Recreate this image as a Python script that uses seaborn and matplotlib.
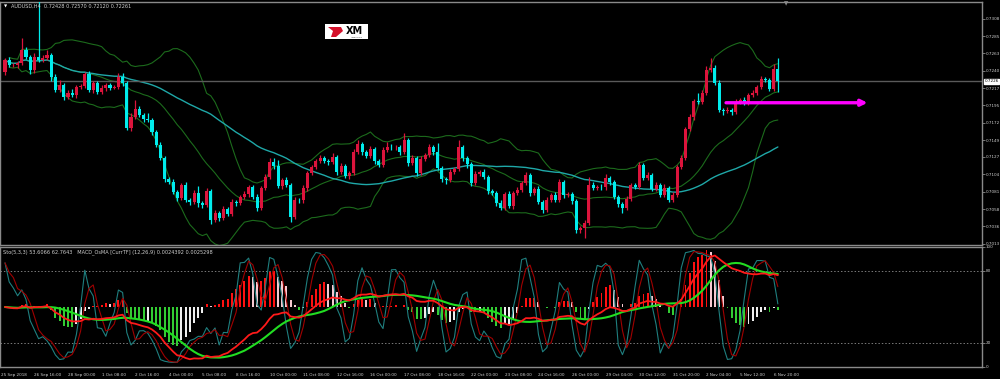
import numpy as np
import pandas as pd
import matplotlib
matplotlib.use("Agg")
import matplotlib.pyplot as plt
import matplotlib.transforms as mtransforms
from matplotlib.patches import Rectangle, Polygon
from matplotlib import font_manager
import seaborn as sns

# ---------------- data ----------------
first_open = 0.72384
closes = [
    0.72541, 0.72476, 0.72476, 0.72502, 0.72673, 0.72581, 0.72410, 0.72581, 0.72541, 0.72568,
    0.72607, 0.72318, 0.72147, 0.72213, 0.72055, 0.72108, 0.72082, 0.72187, 0.72195, 0.72357,
    0.72147, 0.72239, 0.72121, 0.72174, 0.72213, 0.72174, 0.72187, 0.72318, 0.72239, 0.71648,
    0.71793, 0.71898, 0.71819, 0.71767, 0.71753, 0.71596, 0.71425, 0.71255, 0.70979, 0.70939,
    0.70808, 0.70729, 0.70900, 0.70703, 0.70677, 0.70795, 0.70664, 0.70637, 0.70821, 0.70440,
    0.70532, 0.70467, 0.70585, 0.70519, 0.70677, 0.70664, 0.70742, 0.70782, 0.70874, 0.70742,
    0.70598, 0.70861, 0.71005, 0.71202, 0.71150, 0.70887, 0.70966, 0.70900, 0.70480, 0.70703,
    0.70700, 0.70861, 0.71058, 0.71136, 0.71215, 0.71255, 0.71215, 0.71202, 0.71268, 0.71071,
    0.71150, 0.71018, 0.71058, 0.71333, 0.71438, 0.71333, 0.71281, 0.71373, 0.71215, 0.71163,
    0.71360, 0.71399, 0.71395, 0.71399, 0.71333, 0.71491, 0.71189, 0.71255, 0.71058, 0.71241,
    0.71294, 0.71399, 0.71333, 0.71123, 0.70979, 0.70966, 0.71071, 0.71110, 0.71399, 0.71255,
    0.71176, 0.70926, 0.71045, 0.71071, 0.71005, 0.70821, 0.70795, 0.70664, 0.70598, 0.70782,
    0.70624, 0.70795, 0.70834, 0.70926, 0.71031, 0.70795, 0.70847, 0.70677, 0.70572, 0.70703,
    0.70769, 0.70703, 0.70939, 0.70769, 0.70782, 0.70690, 0.70309, 0.70335, 0.70401, 0.70900,
    0.70861, 0.70874, 0.70870, 0.70992, 0.70939, 0.70742, 0.70651, 0.70598, 0.70716, 0.70900,
    0.70874, 0.71163, 0.70992, 0.71031, 0.70847, 0.70900, 0.70769, 0.70861, 0.70703, 0.70769,
    0.71136, 0.71255, 0.71635, 0.71793, 0.72003, 0.71990, 0.72108, 0.72410, 0.72436, 0.72239,
    0.71885, 0.71872, 0.71880, 0.71858, 0.71990, 0.72016, 0.71977, 0.72082, 0.72108, 0.72187,
    0.72292, 0.72279, 0.72160, 0.72428, 0.72261,
]
wick_up_pips = [
    3, 4, 3, 2, 16, 4, 3, 5, 75, 4, 7, 3, 4, 6, 3, 4, 5, 3, 3, 3,
    4, 3, 3, 4, 3, 3, 3, 5, 5, 3, 5, 12, 4, 3, 8, 3, 3, 4, 3, 3,
    4, 3, 3, 4, 3, 4, 9, 3, 4, 3, 4, 3, 4, 3, 4, 3, 3, 4, 3, 3,
    4, 3, 4, 5, 5, 8, 3, 4, 3, 4, 3, 4, 3, 3, 3, 4, 3, 3, 5, 3,
    4, 3, 3, 4, 5, 3, 3, 4, 3, 3, 4, 6, 4, 3, 3, 9, 3, 4, 3, 4,
    3, 4, 3, 12, 3, 3, 4, 3, 9, 3, 3, 3, 4, 3, 4, 3, 3, 3, 4, 3,
    4, 3, 4, 3, 4, 3, 3, 4, 3, 4, 3, 4, 4, 3, 3, 3, 3, 3, 4, 10,
    4, 3, 4, 5, 3, 3, 3, 3, 4, 3, 3, 4, 3, 4, 3, 4, 3, 5, 3, 4,
    3, 4, 3, 4, 3, 10, 4, 5, 13, 4, 4, 3, 4, 3, 4, 3, 4, 3, 4, 3,
    4, 3, 3, 6, 14,
]
wick_dn_pips = [
    4, 3, 2, 4, 3, 3, 5, 4, 3, 3, 3, 5, 3, 3, 4, 3, 3, 4, 3, 2,
    3, 4, 3, 3, 4, 3, 2, 3, 4, 3, 4, 3, 3, 4, 3, 4, 3, 3, 4, 3,
    3, 4, 3, 3, 4, 3, 5, 4, 3, 5, 3, 4, 3, 3, 3, 4, 3, 3, 4, 3,
    4, 3, 3, 3, 4, 3, 4, 3, 7, 3, 3, 3, 4, 3, 3, 3, 3, 4, 3, 4,
    3, 3, 4, 3, 3, 4, 3, 3, 4, 3, 3, 3, 3, 3, 4, 3, 4, 3, 4, 3,
    3, 3, 4, 3, 4, 5, 3, 3, 3, 4, 5, 4, 3, 3, 3, 4, 3, 4, 3, 3,
    3, 4, 3, 3, 3, 4, 3, 3, 4, 3, 3, 3, 3, 4, 3, 4, 4, 4, 13, 3,
    3, 3, 3, 3, 4, 3, 4, 6, 3, 3, 3, 3, 3, 3, 3, 3, 3, 3, 3, 3,
    3, 3, 3, 3, 4, 3, 3, 3, 3, 3, 3, 5, 3, 4, 3, 3, 3, 3, 3, 3,
    3, 3, 3, 3, 14,
]
time_labels = ["25 Sep 2018", "26 Sep 16:00", "28 Sep 00:00", "1 Oct 08:00", "2 Oct 16:00",
               "4 Oct 00:00", "5 Oct 08:00", "8 Oct 16:00", "10 Oct 00:00", "11 Oct 08:00",
               "12 Oct 16:00", "16 Oct 00:00", "17 Oct 08:00", "18 Oct 16:00", "22 Oct 00:00",
               "23 Oct 08:00", "24 Oct 16:00", "26 Oct 00:00", "29 Oct 04:00", "30 Oct 12:00",
               "31 Oct 20:00", "2 Nov 04:00", "5 Nov 12:00", "6 Nov 20:00"]
price_ticks = [0.7308, 0.7285, 0.7263, 0.7240, 0.7217, 0.7195, 0.7172, 0.7149,
               0.7127, 0.7104, 0.7081, 0.7058, 0.7036, 0.7013]
osc_ticks = [100, 80, 20, 0]
osc_levels = [80, 20]
bid_label = "0.7226"
arrow_level = 0.71980
header_text = "AUDUSD,H4  0.72428 0.72570 0.72120 0.72261"
osc_header = "Sto(5,3,3) 53.6066 62.7643   MACD_OsMA [CurrTF] (12,26,9) 0.0024392 0.0025298"

# ---------------- derived series ----------------
close = np.array(closes)
opn = np.r_[first_open, close[:-1]]
high = np.maximum(opn, close) + np.array(wick_up_pips) * 1e-4
low = np.minimum(opn, close) - np.array(wick_dn_pips) * 1e-4
n = len(close)
idx = np.arange(n)
s = pd.Series(close)

bb_mid = s.rolling(20, min_periods=2).mean()
bb_sd = s.rolling(20, min_periods=2).std(ddof=0)
bb_up = bb_mid + 2 * bb_sd
bb_lo = bb_mid - 2 * bb_sd
ma50 = s.rolling(50, min_periods=1).mean()

hh = pd.Series(high).rolling(5, min_periods=1).max()
ll = pd.Series(low).rolling(5, min_periods=1).min()
num = (s - ll).rolling(3, min_periods=1).sum()
den = (hh - ll).rolling(3, min_periods=1).sum()
sto_main = 100 * num / den
sto_sig = sto_main.rolling(3, min_periods=1).mean()

macd = s.ewm(span=12, adjust=False).mean() - s.ewm(span=26, adjust=False).mean()
macd_sig = macd.rolling(9, min_periods=1).mean()
osma = macd - macd_sig
LINE_K = 11000.0
HIST_K = 26000.0

# ---------------- style ----------------
sns.set_theme(style="dark")
installed = {f.name for f in font_manager.fontManager.ttflist}
narrow = "Liberation Sans Narrow" if "Liberation Sans Narrow" in installed else (
    "DejaVu Sans Condensed" if "DejaVu Sans Condensed" in installed else "DejaVu Sans")
plt.rcParams["font.family"] = [narrow, "DejaVu Sans"]
is_narrow = narrow != "DejaVu Sans"
FS_Y = 3.8 if is_narrow else 3.0
FS_X = 3.7 if is_narrow else 3.0
FS_H = 4.2 if is_narrow else 3.6
TXT = "#cfcfcf"
GRAY = "#8a8a8a"
BULL = "#dc143c"
BEAR = "#00ecec"

fig = plt.figure(figsize=(10, 3.79), dpi=100, facecolor="black")
ax = fig.add_axes([0.0, 1 - 245 / 379, 0.982, 243 / 379])
ax2 = fig.add_axes([0.0, 1 - 367 / 379, 0.982, 120 / 379])
for a in (ax, ax2):
    a.set_facecolor("black")
    a.grid(False)
    for sp in a.spines.values():
        sp.set_color(GRAY)
        sp.set_linewidth(1.0)

x_left, x_right = -1.19, 232.6

# ---- price panel ----
for ser in (bb_up, bb_mid, bb_lo):
    sns.lineplot(x=idx, y=ser.values, ax=ax, color="#1c6b1c", linewidth=0.8, legend=False)
sns.lineplot(x=idx, y=ma50.values, ax=ax, color="#1fa8a8", linewidth=1.0, legend=False)

bull = close >= opn
colors = np.where(bull, BULL, BEAR)
ax.vlines(idx, low, high, colors=colors, linewidth=0.9, zorder=3)
body_h = np.maximum(np.abs(close - opn), 0.00003)
ax.bar(idx, body_h, bottom=np.minimum(opn, close), width=0.72, color=colors,
       linewidth=0, zorder=4)

ax.axhline(close[-1], color="#5a5a5a", linewidth=1.0, zorder=2)
ax.annotate("", xy=(206, arrow_level), xytext=(171, arrow_level),
            arrowprops=dict(arrowstyle="-|>", color="#ff00ff", lw=2.4, mutation_scale=9),
            zorder=6)

ax.set_xlim(x_left, x_right)
ax.set_ylim(0.70112, 0.73303)
ax.set_xticks([])
ax.yaxis.tick_right()
ax.set_yticks(price_ticks)
ax.set_yticklabels([f"{v:.4f}" for v in price_ticks])
ax.tick_params(axis="y", colors=GRAY, labelcolor=TXT, labelsize=FS_Y, length=2, width=0.6, pad=0.6)
ax.set_xlabel("")
ax.set_ylabel("")

trans = mtransforms.blended_transform_factory(ax.transAxes, ax.transData)
ax.text(1.0025, close[-1], bid_label, transform=trans, fontsize=FS_Y, color="black",
        va="center", ha="left", clip_on=False,
        bbox=dict(boxstyle="square,pad=0.1", fc="white", ec="white"))

# ---- oscillator panel ----
prev = osma.shift(1).fillna(0).values
hcols = []
for v, p in zip(osma.values, prev):
    if v >= 0:
        hcols.append("#ff1010" if v >= p else "#f6c8d0")
    else:
        hcols.append("#33cc33" if v < p else "#eeeeee")
ax2.bar(idx, osma.values * HIST_K, bottom=50, width=0.45, color=hcols, linewidth=0, zorder=2)

sns.lineplot(x=idx, y=sto_main.values, ax=ax2, color="#1f7f7f", linewidth=0.8, legend=False)
sns.lineplot(x=idx, y=sto_sig.values, ax=ax2, color="#a00000", linewidth=0.8, legend=False)
sns.lineplot(x=idx, y=macd_sig.values * LINE_K + 50, ax=ax2, color="#22dd22", linewidth=1.5, legend=False)
sns.lineplot(x=idx, y=macd.values * LINE_K + 50, ax=ax2, color="#ff1a1a", linewidth=1.3, legend=False)
for lv in osc_levels:
    ax2.axhline(lv, color="#7a7a7a", linewidth=0.7, linestyle=(0, (1.5, 2)), zorder=1)

ax2.set_xlim(x_left, x_right)
ax2.set_ylim(0, 100)
ax2.yaxis.tick_right()
ax2.set_yticks(osc_ticks)
ax2.set_yticklabels([str(v) for v in osc_ticks])
ax2.tick_params(axis="y", colors=GRAY, labelcolor=TXT, labelsize=FS_Y, length=2, width=0.6, pad=0.6)
tick_pos = [8 * k - 1 for k in range(len(time_labels))]
ax2.set_xticks(tick_pos)
ax2.set_xticklabels(time_labels, ha="left")
ax2.tick_params(axis="x", colors=GRAY, labelcolor=TXT, labelsize=FS_X, length=3, width=0.6, pad=1.2)
ax2.set_xlabel("")
ax2.set_ylabel("")

# ---- texts and decorations ----
fig.text(0.004, 1 - 6 / 379, "\u25bc", color="white", fontsize=3.0, va="center", ha="left",
         family="DejaVu Sans")
fig.text(0.011, 1 - 6 / 379, header_text, color=TXT, fontsize=FS_H, va="center", ha="left")
fig.text(0.003, 1 - 252 / 379, osc_header, color=TXT, fontsize=FS_H, va="center", ha="left")
fig.text(0.786, 1 - 4 / 379, "\u25bc", color="#8a8a8a", fontsize=4, va="center", ha="center",
         family="DejaVu Sans")

# XM logo
fig.patches.append(Rectangle((0.325, 1 - 39 / 379), 0.043, 15 / 379, transform=fig.transFigure,
                             facecolor="white", edgecolor="none"))
fig.patches.append(Polygon([(0.328, 1 - 27 / 379), (0.341, 1 - 27 / 379), (0.343, 1 - 31 / 379),
                            (0.336, 1 - 37 / 379), (0.331, 1 - 37 / 379), (0.333, 1 - 31 / 379)],
                           closed=True, transform=fig.transFigure, facecolor="#d4102a",
                           edgecolor="none"))
fig.text(0.3545, 1 - 31 / 379, "XM", color="black", fontsize=7, fontweight="bold",
         va="center", ha="center", family="DejaVu Sans")
fig.text(0.357, 1 - 37 / 379, "INVESTING", color="#444444", fontsize=1.6, va="center", ha="center",
         family="DejaVu Sans")

fig.savefig("out.png", dpi=100, facecolor="black")
